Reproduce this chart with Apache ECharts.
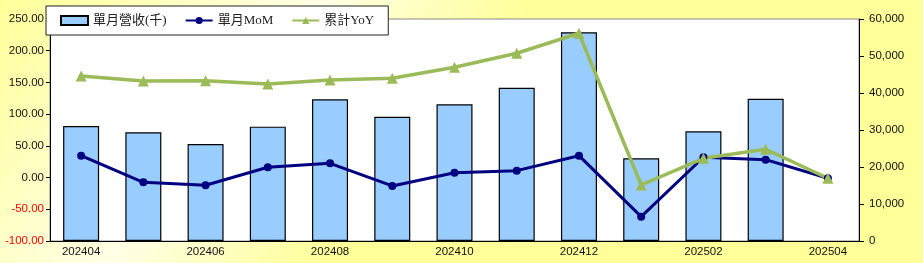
<!DOCTYPE html>
<html><head><meta charset="utf-8">
<script src="https://cdn.jsdelivr.net/npm/echarts@6/dist/echarts.min.js"></script>
<style>html,body{margin:0;padding:0;background:#fff}#c{width:923px;height:263px}</style>
</head><body><div id="c"></div>
<script>
const categories = ['202404','202405','202406','202407','202408','202409','202410','202411','202412','202501','202502','202503','202504'];
const revenue = [31100, 29400, 26200, 30900, 38300, 33600, 36950, 41400, 56400, 22350, 29650, 38450, null];
const mom = [34.5, -7.4, -12.2, 16.2, 22.5, -13.2, 7.7, 10.9, 34.5, -61.6, 32.0, 28.2, -1.1];
const yoy = [160.2, 152.3, 152.8, 147.6, 153.9, 156.5, 173.9, 196.0, 227.5, -11.7, 30.4, 44.6, -1.1];
const leftMin = -100, leftMax = 250, leftStep = 50;
const rightMin = 0, rightMax = 60000, rightStep = 10000;

const chart = echarts.init(document.getElementById('c'));
const latin = 'Liberation Sans, Arial, sans-serif';
const serif = '"Liberation Serif", "Noto Sans CJK TC", serif';
chart.setOption({
  animation: false,
  backgroundColor: new echarts.graphic.LinearGradient(0, 0, 0.35, 1, [
    {offset: 0, color: '#FFFF99'},
    {offset: 0.6, color: '#FFFFE6'},
    {offset: 1, color: '#FFFF99'}
  ]),
  grid: {left: 50, right: 64, top: 19, bottom: 22, show: true, backgroundColor: '#fff', borderColor: '#888', borderWidth: 1},
  legend: {
    left: 46, top: 6, padding: [8, 14, 8, 14], itemGap: 18, itemWidth: 27, itemHeight: 9,
    backgroundColor: '#fff', borderColor: '#222', borderWidth: 1,
    textStyle: {fontFamily: serif, fontSize: 13, color: '#222'},
    data: [
      {name: '單月營收(千)', icon: 'rect'},
      {name: '單月MoM'},
      {name: '累計YoY'}
    ]
  },
  xAxis: {
    type: 'category', data: categories, boundaryGap: true,
    axisLine: {onZero: false, lineStyle: {color: '#000', width: 1}},
    axisTick: {inside: true, length: 3, lineStyle: {color: '#000'}},
    axisLabel: {interval: 1, fontFamily: latin, fontSize: 11.5, color: '#111', margin: 5}
  },
  yAxis: [
    {
      type: 'value', min: leftMin, max: leftMax, interval: leftStep, position: 'left',
      splitLine: {show: false},
      axisLine: {show: true, lineStyle: {color: '#000'}},
      axisTick: {show: true, length: 4, lineStyle: {color: '#000'}},
      axisLabel: {fontFamily: latin, fontSize: 11.5, margin: 6,
        formatter: v => v.toFixed(2),
        color: v => (Number(v) < 0 ? '#FF0000' : '#111')}
    },
    {
      type: 'value', min: rightMin, max: rightMax, interval: rightStep, position: 'right',
      splitLine: {show: false},
      axisLine: {show: true, lineStyle: {color: '#000'}},
      axisTick: {show: true, length: 5, lineStyle: {color: '#000'}},
      axisLabel: {fontFamily: latin, fontSize: 11.5, color: '#111', margin: 10,
        formatter: v => v.toLocaleString('en-US')}
    }
  ],
  series: [
    {
      name: '單月營收(千)', type: 'bar', yAxisIndex: 1, data: revenue, barWidth: 36,
      itemStyle: {color: '#99CCFF', borderColor: '#000', borderWidth: 1.2}
    },
    {
      name: '單月MoM', type: 'line', yAxisIndex: 0, data: mom,
      symbol: 'circle', symbolSize: 8,
      lineStyle: {color: '#000080', width: 3}, itemStyle: {color: '#000080'}
    },
    {
      name: '累計YoY', type: 'line', yAxisIndex: 0, data: yoy,
      symbol: 'triangle', symbolSize: 11,
      lineStyle: {color: '#9BBB59', width: 3.5}, itemStyle: {color: '#9BBB59'}
    }
  ]
});
</script></body></html>
